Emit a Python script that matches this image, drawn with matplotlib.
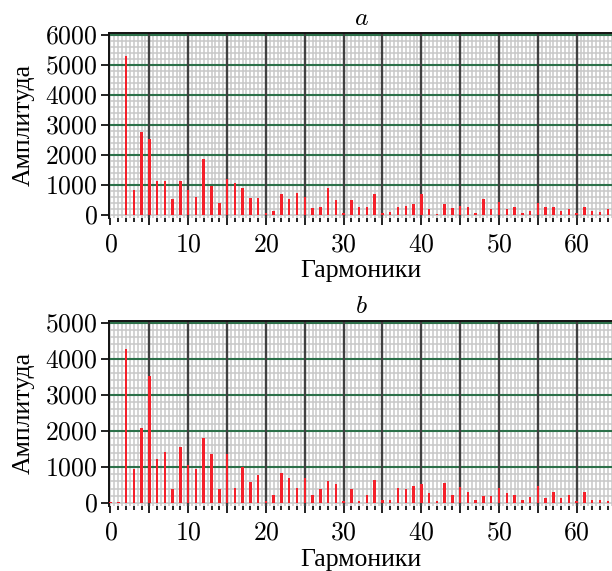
import numpy as np
import matplotlib
matplotlib.use("Agg")
import matplotlib.pyplot as plt
from matplotlib.ticker import MultipleLocator, FuncFormatter

harmonics = list(range(65))

amp_a = [20, 20, 5320, 830, 2760, 2540, 1140, 1140, 540, 1140,
         830, 620, 1860, 970, 390, 1190, 1060, 920, 570, 570,
         60, 150, 710, 540, 750, 620, 225, 270, 890, 495,
         60, 495, 270, 270, 710, 60, 100, 270, 315, 360,
         710, 190, 50, 360, 225, 315, 270, 60, 540, 190,
         450, 190, 270, 60, 150, 405, 270, 270, 150, 190,
         60, 270, 150, 100, 190]

amp_b = [20, 20, 4270, 945, 2080, 3530, 1230, 1410, 385, 1560,
         1055, 945, 1800, 1370, 385, 1370, 405, 1000, 595, 775,
         65, 230, 835, 690, 415, 690, 230, 380, 600, 515,
         65, 380, 65, 230, 625, 90, 90, 415, 380, 480,
         515, 270, 60, 555, 230, 450, 305, 90, 200, 200,
         415, 270, 230, 90, 165, 480, 130, 305, 130, 230,
         55, 305, 90, 90, 55]

titles = ["a", "b"]
xlabel = "Гармоники"
ylabel = "Амплитуда"
ylims = [(-80, 6070), (-80, 5050)]

plt.rcParams['font.family'] = ['Liberation Serif', 'DejaVu Serif']
plt.rcParams['mathtext.fontset'] = 'cm'

fig = plt.figure(figsize=(6.12, 5.71), dpi=100)
positions = [[0.178, 0.619, 0.824, 0.323], [0.178, 0.114, 0.824, 0.324]]

FS = 18.5

def xlabel_fmt(v, pos):
    if abs(v - round(v / 10) * 10) < 1e-6:
        return r"$%d$" % int(round(v))
    return ""

def ylabel_fmt(v, pos):
    return r"$%d$" % int(round(v))

for pos, vals, title, yl in zip(positions, [amp_a, amp_b], titles, ylims):
    ax = fig.add_axes(pos)
    ax.set_xlim(-0.2, 64.7)
    ax.set_ylim(*yl)
    xt = ax.get_xaxis_transform()
    yt = ax.get_yaxis_transform()
    ax.vlines(np.arange(0, 65, 0.5), 0, 1, transform=xt, color='#c8c8c8', lw=1.1, zorder=1)
    ax.hlines(np.arange(0, yl[1], 200), 0, 1, transform=yt, color='#c8c8c8', lw=1.1, zorder=1)
    ax.hlines(np.arange(1000, yl[1], 1000), 0, 1, transform=yt, color='#2c7049', lw=1.5, zorder=2)
    ax.vlines(np.arange(5, 65, 5), 0, 1, transform=xt, color='#404040', lw=1.7, zorder=2)
    ax.bar(harmonics, vals, width=0.32, color='#f4202a', zorder=3)

    ax.spines['bottom'].set_visible(False)
    ax.spines['right'].set_visible(False)
    for s in ['left', 'top']:
        ax.spines[s].set_linewidth(1.4)
        ax.spines[s].set_color('#111111')

    ax.xaxis.set_major_locator(MultipleLocator(5))
    ax.xaxis.set_minor_locator(MultipleLocator(1))
    ax.xaxis.set_major_formatter(FuncFormatter(xlabel_fmt))
    ax.yaxis.set_major_locator(MultipleLocator(1000))
    ax.yaxis.set_major_formatter(FuncFormatter(ylabel_fmt))
    ax.tick_params(axis='x', which='major', length=5, width=1.4, color='#222222',
                   direction='out', pad=7, labelsize=FS)
    ax.tick_params(axis='x', which='minor', length=3, width=1.4, color='#222222',
                   direction='out')
    ax.tick_params(axis='y', which='major', length=6, width=1.4, color='#222222',
                   direction='out', pad=2, labelsize=FS)
    ax.set_title(r"$%s$" % title, fontsize=FS, pad=6)
    ax.set_xlabel(xlabel, fontsize=FS, labelpad=3)
    ax.set_ylabel(ylabel, fontsize=FS, labelpad=8)

fig.savefig("out.png", dpi=100)
